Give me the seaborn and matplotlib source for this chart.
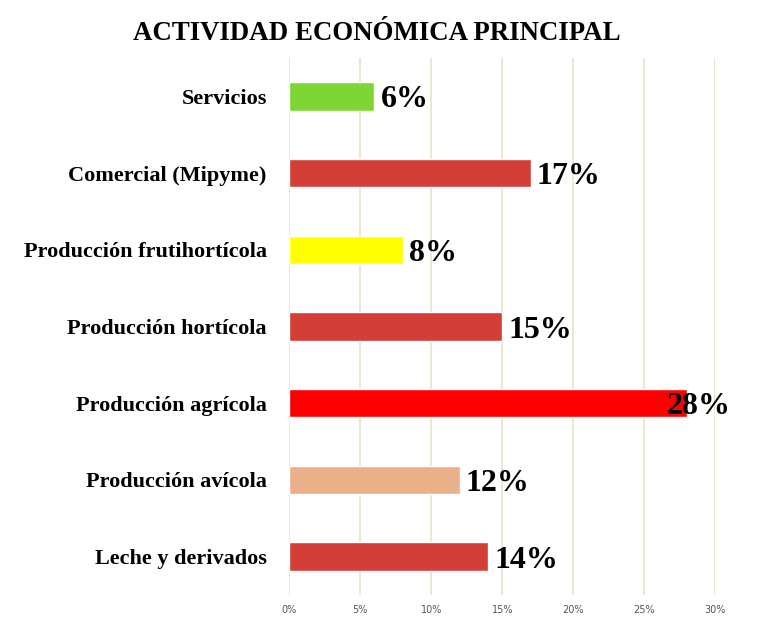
import matplotlib
matplotlib.use("Agg")
import matplotlib.pyplot as plt
import seaborn as sns
import pandas as pd

categories = ["Servicios", "Comercial (Mipyme)", "Producción frutihortícola",
              "Producción hortícola", "Producción agrícola", "Producción avícola",
              "Leche y derivados"]
values = [6, 17, 8, 15, 28, 12, 14]
colors = ["#7ED634", "#D33F37", "#FFFF00", "#D33F37", "#FF0000", "#E9B08A", "#D33F37"]
xticks = [0, 5, 10, 15, 20, 25, 30]
xticklabels = ["0%", "5%", "10%", "15%", "20%", "25%", "30%"]
title = "ACTIVIDAD ECONÓMICA PRINCIPAL"

df = pd.DataFrame({"cat": categories, "val": values})

sns.set_style("white")
plt.rcParams['font.family'] = ['Liberation Serif', 'DejaVu Serif']
plt.rcParams['text.color'] = 'black'
plt.rcParams['ytick.color'] = 'black'

fig = plt.figure(figsize=(7.62, 6.30), dpi=100)
W, H = 762, 630
ax = fig.add_axes([289 / W, 1 - 595 / H, (715.5 - 289) / W, (595 - 58) / H])

sns.barplot(data=df, x="val", y="cat", hue="cat", palette=colors, legend=False,
            width=0.37, ax=ax, orient="h", saturation=1)

ax.set_xlim(0, 30)
ax.set_ylim(6.5, -0.5)
ax.set_xticks(xticks)
ax.set_xticklabels(xticklabels, fontsize=7, color="#555555", family="DejaVu Sans")
ax.tick_params(axis="x", length=0, pad=7)
ax.tick_params(axis="y", length=0, pad=16)
for lbl in ax.get_yticklabels():
    lbl.set_fontsize(16)
    lbl.set_fontweight("bold")
    lbl.set_color("black")
ax.set_xlabel("")
ax.set_ylabel("")
for s in ax.spines.values():
    s.set_visible(False)
ax.grid(axis="x", color="#E8E4C8", linewidth=1.2)
ax.grid(axis="y", visible=False)
ax.set_axisbelow(True)

fig.text(377 / W, 1 - 31 / H, title, ha="center", va="center_baseline",
         fontsize=19.4, fontweight="bold", color="black")

fig.canvas.draw()
renderer = fig.canvas.get_renderer()
right_limit = 731
for i, v in enumerate(values):
    t = ax.annotate(f"{v}%", xy=(v, i), xytext=(4.5, 0), textcoords="offset points",
                    ha="left", va="center_baseline", fontsize=23, fontweight="bold",
                    color="black")
    bb = t.get_window_extent(renderer)
    if bb.x1 > right_limit:
        t.set_position((4.5 - (bb.x1 - right_limit) * 72 / 100, 0))

fig.savefig("out.png", dpi=100)
